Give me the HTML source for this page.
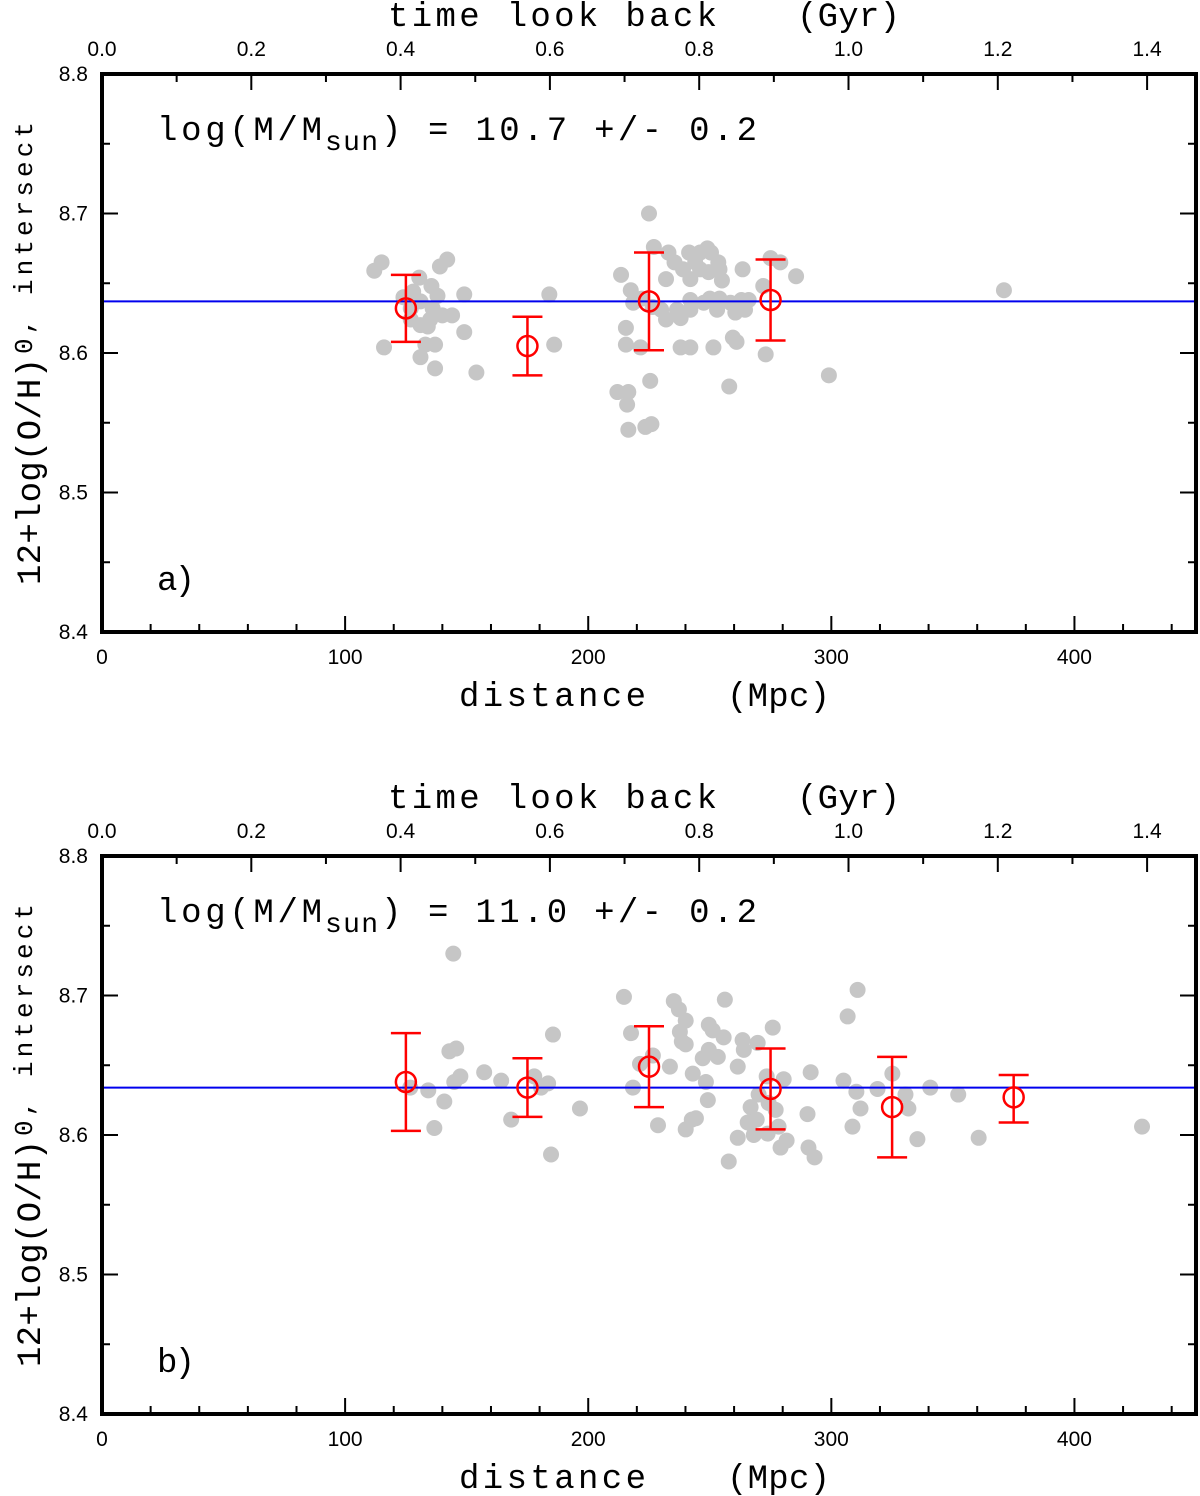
<!DOCTYPE html>
<html><head><meta charset="utf-8">
<style>
html,body{margin:0;padding:0;background:#fff;}
svg{display:block;}
.mono{font-family:"Liberation Mono","DejaVu Sans Mono",monospace;}
.sans{font-family:"Liberation Sans",Arial,sans-serif;}
</style></head>
<body>
<svg id="fig" width="1200" height="1496" viewBox="0 0 1200 1496" xmlns="http://www.w3.org/2000/svg"></svg>
<script>
// ---- data: panel a ----
const aPoints = [[112,8.659],[115,8.665],[142,8.667],[139,8.662],[130.5,8.654],[135.5,8.648],[124,8.640],[128,8.644],[131,8.637],[138,8.641],[149,8.642],[127,8.632],[136,8.632],[140,8.627],[144,8.627],[127,8.624],[135,8.624],[149,8.615],[133,8.606],[137,8.606],[116,8.604],[131,8.597],[137,8.589],[154,8.586],[184,8.642],[186,8.606],[134,8.619],[131,8.620],
[225,8.700],[213.5,8.656],[227,8.676],[233,8.672],[235.5,8.665],[232,8.653],[217.5,8.645],[218.5,8.636],[222,8.639],[241.5,8.672],[246,8.672],[249,8.675],[250.5,8.672],[253.5,8.665],[244,8.665],[239,8.660],[242,8.653],[246,8.660],[249.5,8.658],[254,8.660],[255,8.652],[254,8.639],[250,8.639],[247.5,8.636],[242,8.638],[236.5,8.631],[232,8.624],[230,8.631],[226.5,8.633],[238,8.625],[242,8.631],[263.5,8.660],[275,8.668],[279,8.665],[285.5,8.655],[272,8.648],[266,8.638],[264.5,8.631],[260.5,8.629],[215.5,8.618],[215.5,8.606],[221.5,8.604],[238,8.604],[242,8.604],[251.5,8.604],[259.5,8.611],[261,8.608],[273,8.599],[258,8.576],[212,8.572],[216.5,8.572],[216,8.563],[225.5,8.580],[216.5,8.545],[223.5,8.547],[226,8.549],[263,8.638],[258.5,8.636],[253,8.631],[299,8.584],[371,8.645]];
const aBinDist = [125,175,225,275];
const aBinMean = [8.632,8.605,8.637,8.638];
const aBinHigh = [8.656,8.626,8.672,8.667];
const aBinLow  = [8.608,8.584,8.602,8.609];
const aFit = 8.637;
// ---- data: panel b ----
const bPoints = [[144.5,8.730],[214.7,8.699],[235.2,8.696],[237.3,8.690],[256.2,8.697],[240.1,8.682],[237.7,8.674],[238.5,8.667],[240.1,8.665],[249.6,8.679],[251.2,8.675],[255.7,8.670],[263.5,8.668],[269.7,8.666],[275.9,8.677],[264.0,8.661],[310.8,8.704],[306.7,8.685],[217.6,8.673],[185.5,8.672],[142.9,8.660],[145.7,8.662],[226.6,8.657],[221.3,8.651],[233.6,8.649],[249.6,8.661],[247.1,8.655],[253.3,8.656],[243.0,8.644],[261.5,8.649],[273.4,8.642],[280.4,8.640],[291.5,8.645],[157.2,8.645],[147.4,8.642],[144.9,8.638],[134.2,8.632],[164.2,8.639],[177.8,8.642],[183.5,8.637],[180.6,8.634],[140.8,8.624],[218.4,8.634],[248.4,8.638],[249.2,8.625],[270.1,8.629],[266.8,8.620],[274.2,8.623],[277.1,8.618],[290.2,8.615],[312.0,8.619],[310.3,8.631],[319.0,8.633],[330.5,8.629],[196.6,8.619],[168.3,8.611],[269.3,8.611],[265.6,8.609],[244.3,8.612],[242.6,8.611],[228.7,8.607],[240.1,8.604],[273.8,8.601],[278.3,8.606],[281.6,8.596],[268.1,8.600],[261.5,8.598],[279.1,8.591],[290.6,8.591],[293.1,8.584],[257.8,8.581],[136.7,8.605],[184.7,8.586],[308.7,8.606],[335.4,8.597],[305.0,8.639],[352.2,8.629],[360.6,8.598],[427.8,8.606],[331.7,8.619],[325.1,8.644],[340.7,8.634],[126.8,8.634]];
const bBinDist = [125,175,225,275,325,375];
const bBinMean = [8.638,8.634,8.649,8.633,8.620,8.627];
const bBinHigh = [8.673,8.655,8.678,8.662,8.656,8.643];
const bBinLow  = [8.603,8.613,8.620,8.604,8.584,8.609];
const bFit = 8.634;
// ---- tick labels ----
const xTicks = [0,100,200,300,400];
const yTicks = [8.4,8.5,8.6,8.7,8.8];
const topTicks = [0.0,0.2,0.4,0.6,0.8,1.0,1.2,1.4];

const NS="http://www.w3.org/2000/svg";
const svg=document.getElementById('fig');
function mk(tag,attrs,parent){const e=document.createElementNS(NS,tag);for(const k in attrs)e.setAttribute(k,attrs[k]);(parent||svg).appendChild(e);return e;}
function txt(parent,str,x,y,len,size,name){
  const t=mk('text',{x:x,y:y,'font-size':size,class:'mono',textLength:len,lengthAdjust:'spacing'},parent);
  t.textContent=str;
  
  
  return t;
}

function panel(top, pts, bd, bm, bh, bl, fit, massText, letter, pname){
  const L=102,R=1196,T=top,B=top+558;
  const g=mk('g',{});
  
  
  const X=d=>L+(d/450)*(R-L);
  const Y=v=>B-(v-8.4)/0.4*(B-T);
  const TX=t=>L+t*746.5;
  const pg=mk('g',{},g);
  
  
  pts.forEach(p=>{const c=mk('circle',{cx:X(p[0]),cy:Y(p[1]),r:8,fill:'#c6c6c6'},pg);
    
    });
  const fl=mk('line',{x1:L,x2:R,y1:Y(fit),y2:Y(fit),stroke:'#0000ee','stroke-width':2},g);
  
  
  bd.forEach((d,i)=>{
    const eg=mk('g',{stroke:'#ff0000','stroke-width':2.5,fill:'none'},g);
    
    
    const x=X(d);
    mk('line',{x1:x,x2:x,y1:Y(bh[i]),y2:Y(bl[i])},eg);
    mk('line',{x1:x-15,x2:x+15,y1:Y(bh[i]),y2:Y(bh[i])},eg);
    mk('line',{x1:x-15,x2:x+15,y1:Y(bl[i]),y2:Y(bl[i])},eg);
    mk('circle',{cx:x,cy:Y(bm[i]),r:10},eg);
  });
  const tk=mk('g',{stroke:'#000','stroke-width':2},g);
  for(let d=0;d<=450;d+=20){const big=d%100===0;const x=X(d);
    mk('line',{x1:x,x2:x,y1:B,y2:B-(big?16:8)},tk);}
  for(let t=0;t<=1.45;t+=0.1){const big=Math.round(t*10)%2===0;const x=TX(t);if(x>R)break;
    mk('line',{x1:x,x2:x,y1:T,y2:T+(big?16:8)},tk);}
  for(let v=8.4;v<=8.8001;v+=0.05){const big=Math.round(v*100)%10===0;const y=Y(v);
    mk('line',{x1:L,x2:L+(big?16:8),y1:y,y2:y},tk);mk('line',{x1:R,x2:R-(big?16:8),y1:y,y2:y},tk);}
  const fr=mk('rect',{x:L,y:T,width:R-L,height:B-T,fill:'none',stroke:'#000','stroke-width':4},g);
  
  
  xTicks.forEach(d=>{const t=mk('text',{x:X(d),y:B+32,'text-anchor':'middle','font-size':21,class:'sans'},g);t.textContent=d;
    });
  topTicks.forEach(v=>{const t=mk('text',{x:TX(v),y:T-18,'text-anchor':'middle','font-size':21,class:'sans'},g);t.textContent=v.toFixed(1);
    });
  yTicks.forEach(v=>{const t=mk('text',{x:88,y:Y(v)+7,'text-anchor':'end','font-size':21,class:'sans'},g);t.textContent=v.toFixed(1);
    });
  txt(g,'time look back',388,T-48,329,34,'top-axis-title');
  txt(g,'(Gyr)',797,T-48,103,34,'top-axis-unit');
  txt(g,'distance',459,B+74,187,34,'x-axis-title');
  txt(g,'(Mpc)',727,B+74,103,34,'x-axis-unit');
  const yg=mk('g',{transform:`translate(28,0) rotate(-90)`},g);
  
  
  txt(yg,'12+log(O/H)',-(T+511),12,227,34,'y-axis-title-main');
  txt(yg,'0, intersect',-(T+280),4,232,26,'y-axis-title-subscript');
  txt(g,'log(M/M',157,T+66,165,34,'mass-annotation');
  txt(g,'sun',325,T+76,53,28,'mass-annotation-subscript');
  txt(g,')',381,T+66,16,34,'mass-annotation-paren');
  txt(g,'= '+massText,428,T+66,329,34,'mass-annotation-value');
  txt(g,letter,157,B-42,38,34,'panel-label');
}
panel(74,aPoints,aBinDist,aBinMean,aBinHigh,aBinLow,aFit,'10.7 +/- 0.2','a)','panel-a');
panel(856,bPoints,bBinDist,bBinMean,bBinHigh,bBinLow,bFit,'11.0 +/- 0.2','b)','panel-b');
</script>
</body></html>
